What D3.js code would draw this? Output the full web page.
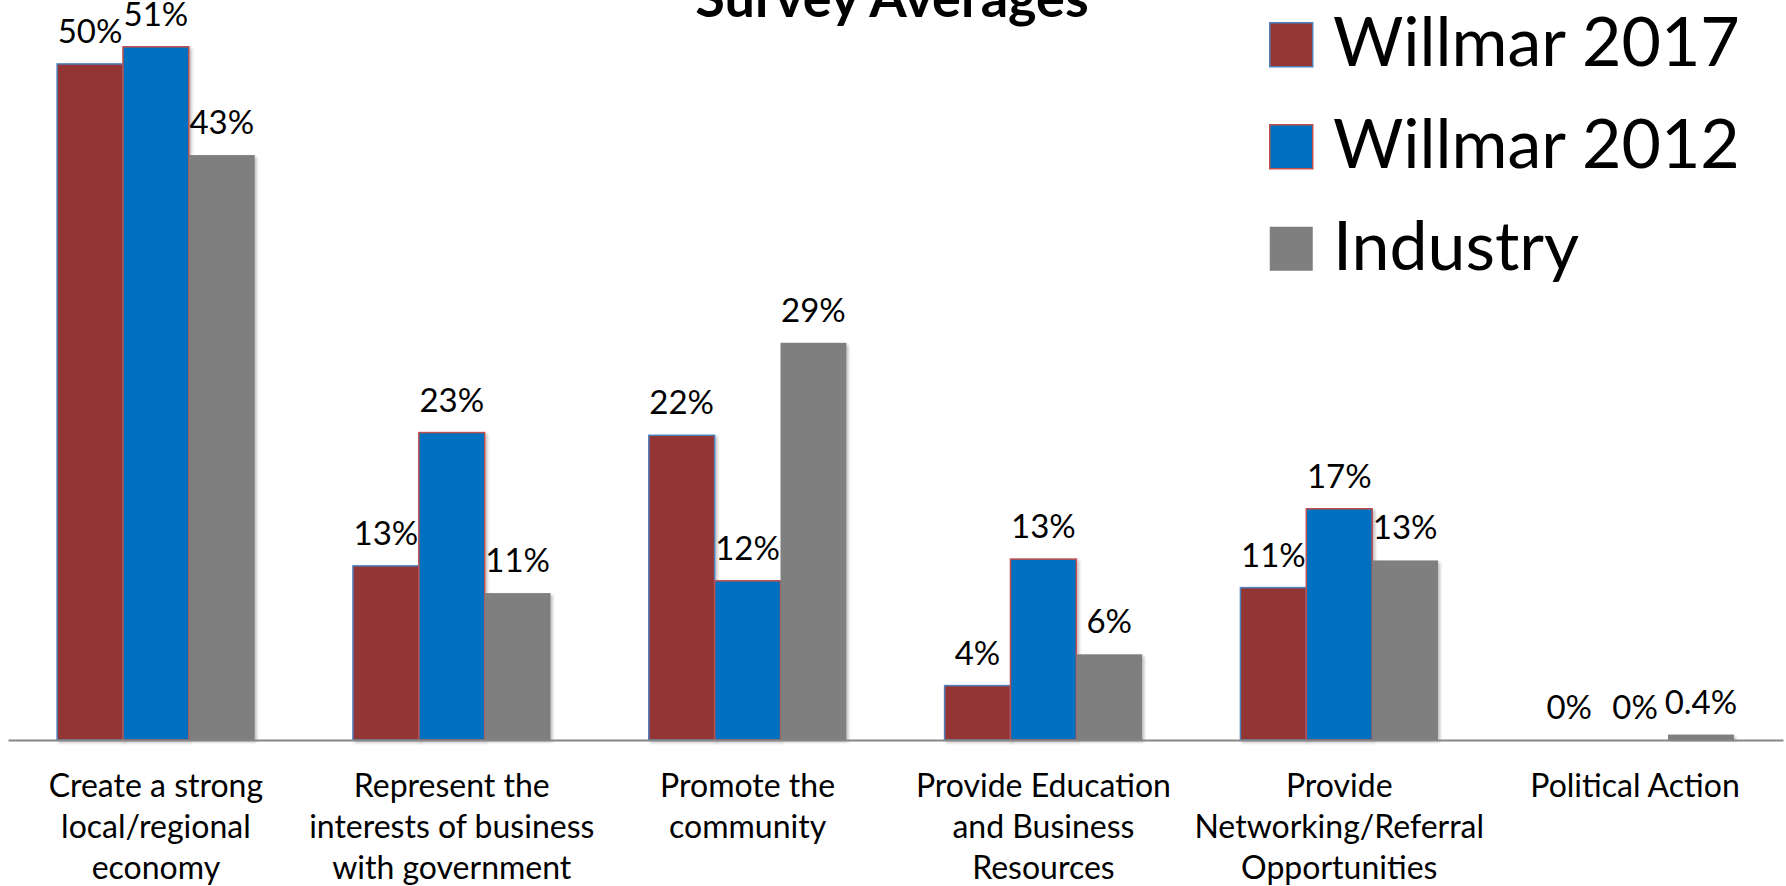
<!DOCTYPE html>
<html>
<head>
<meta charset="utf-8">
<script src="https://cdn.jsdelivr.net/npm/d3@7"></script>
<style>
  html, body { margin: 0; padding: 0; background: #ffffff; overflow: hidden; }
  svg { display: block; font-family: Lato, "Open Sans", sans-serif; }
</style>
</head>
<body>
<svg id="chart" width="1786" height="886"></svg>
<script>
// ---- data (values in %) ----
const title = "Survey Averages";
const categories = [
  "Create a strong\nlocal/regional\neconomy",
  "Represent the\ninterests of business\nwith government",
  "Promote the\ncommunity",
  "Provide Education\nand Business\nResources",
  "Provide\nNetworking/Referral\nOpportunities",
  "Political Action"
];
const seriesNames = ["Willmar 2017", "Willmar 2012", "Industry"];
const willmar2017 = [49.7, 12.8, 22.4, 4.0, 11.2, 0];
const willmar2012 = [50.96, 22.6, 11.7, 13.3, 17.0, 0];
const industry    = [43.0, 10.8, 29.2, 6.3, 13.2, 0.4];
const seriesValues = [willmar2017, willmar2012, industry];
const fillColors = ["#943634", "#0070C0", "#7F7F7F"];
const strokeColors = ["#4F81BD", "#C0504D", "none"];

// ---- layout ----
const baseY = 740, left = 8, right = 1783;
const svg = d3.select("#chart");

const defs = svg.append("defs");
const f = defs.append("filter").attr("id", "shadow").attr("x", "-10%").attr("y", "-10%").attr("width", "130%").attr("height", "130%");
f.append("feDropShadow").attr("dx", 2).attr("dy", 2).attr("stdDeviation", 1.5)
  .attr("flood-color", "#000").attr("flood-opacity", 0.25);

const x0 = d3.scaleBand().domain(categories).range([left, right])
  .paddingInner(0.332).paddingOuter(0.166);
const x1 = d3.scaleBand().domain(seriesNames).range([0, x0.bandwidth()]).padding(0);
const y = d3.scaleLinear().domain([0, 54.4]).range([baseY, 0]);

const rows = [];
categories.forEach((c, i) => {
  seriesNames.forEach((s, j) => {
    rows.push({ cat: c, series: s, si: j, value: seriesValues[j][i] });
  });
});

const fmt = v => (v > 0 && v < 1) ? d3.format(".1f")(v) + "%" : d3.format(".0f")(v) + "%";

// bars
svg.append("g").selectAll("rect").data(rows.filter(d => d.value > 0)).join("rect")
  .attr("x", d => x0(d.cat) + x1(d.series))
  .attr("y", d => y(d.value))
  .attr("width", x1.bandwidth())
  .attr("height", d => baseY - y(d.value))
  .attr("fill", d => fillColors[d.si])
  .attr("stroke", d => strokeColors[d.si])
  .attr("stroke-width", 1.5)
  .attr("filter", "url(#shadow)");

// axis line
svg.append("g").attr("transform", `translate(0,${baseY})`)
  .call(d3.axisBottom(x0).tickSize(0).tickFormat(""))
  .call(g => g.select(".domain").attr("stroke", "#868686").attr("stroke-width", 2))
  .call(g => g.selectAll(".tick").remove());

// data labels
svg.append("g").selectAll("text").data(rows).join("text")
  .attr("x", d => x0(d.cat) + x1(d.series) + x1.bandwidth() / 2)
  .attr("y", d => y(d.value) - 21)
  .attr("text-anchor", "middle")
  .attr("font-size", 33)
  .attr("fill", "#000")
  .text(d => fmt(d.value));

// category labels
const cg = svg.append("g");
categories.forEach(c => {
  const t = cg.append("text")
    .attr("x", x0(c) + x0.bandwidth() / 2)
    .attr("y", 797)
    .attr("text-anchor", "middle")
    .attr("font-size", 32)
    .attr("fill", "#000");
  c.split("\n").forEach((ln, k) => {
    t.append("tspan").attr("x", x0(c) + x0.bandwidth() / 2).attr("y", 797 + k * 41).text(ln);
  });
});

// title
svg.append("text").attr("x", 892).attr("y", 17).attr("text-anchor", "middle")
  .attr("font-size", 54).attr("font-weight", "bold").attr("fill", "#000").text(title);

// legend
const lg = svg.append("g").attr("transform", "translate(1269,22)");
seriesNames.forEach((s, j) => {
  const r = lg.append("g").attr("transform", `translate(0,${j * 102})`);
  r.append("rect").attr("x", 0.75).attr("y", 0.75).attr("width", 43).attr("height", 44)
    .attr("fill", fillColors[j]).attr("stroke", strokeColors[j]).attr("stroke-width", 1.5);
  r.append("text").attr("x", 64).attr("y", 44).attr("font-size", 68).attr("fill", "#000").text(s);
});
</script>
</body>
</html>
